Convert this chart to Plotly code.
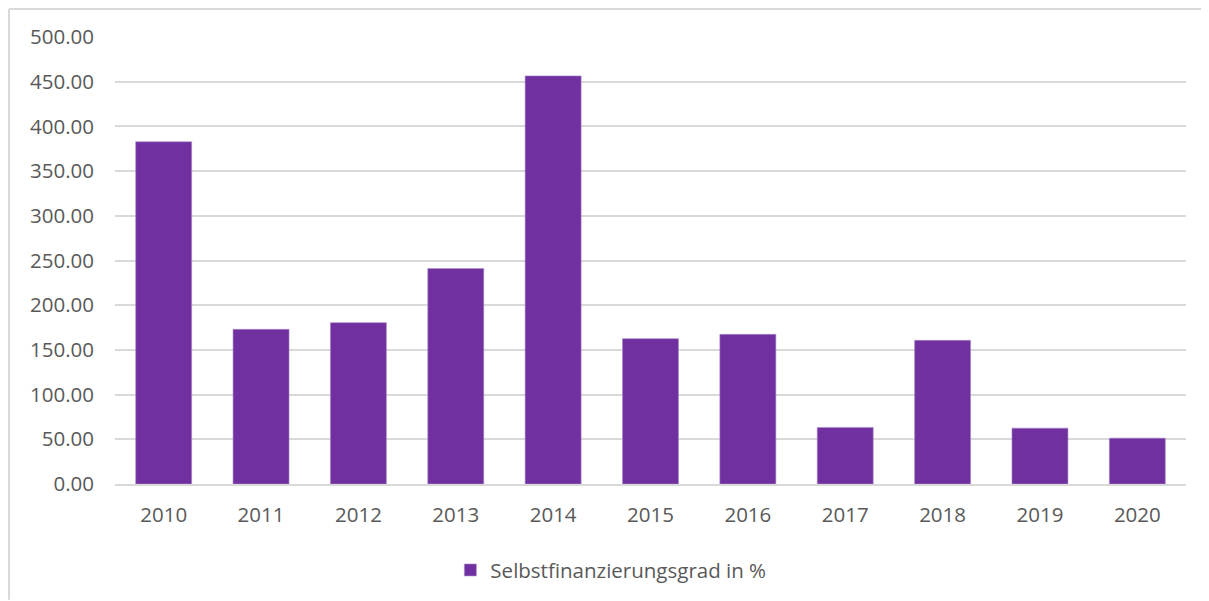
import plotly.graph_objects as go

# Selbstfinanzierungsgrad je Jahr
years = ["2010", "2011", "2012", "2013", "2014", "2015", "2016", "2017", "2018", "2019", "2020"]
ratio_pct = [382.8, 173.0, 180.5, 241.0, 456.5, 162.6, 167.4, 63.3, 160.7, 62.5, 51.3]
series_name = "Selbstfinanzierungsgrad in %"
y_ticks = [0, 50, 100, 150, 200, 250, 300, 350, 400, 450, 500]

# the page body adds an 8px margin, so the figure starts at (8, 8)
W, H = 1201, 593
ML, MR, MT, MB = 107, 23, 29, 116
font_family = "Open Sans, Noto Sans, sans-serif"
text_color = "#595959"
grid_color = "#d9d9d9"

fig = go.Figure()
fig.add_trace(go.Bar(
    x=years,
    y=ratio_pct,
    name=series_name,
    marker=dict(color="#7030a0", line=dict(color="#a88bc7", width=0.6)),
    showlegend=True,
))

# light frame along the top and left edge of the chart area
pw, ph = W - ML - MR, H - MT - MB
x_left = (1 - ML) / pw
y_top = 1 + (MT - 1) / ph
fig.add_shape(type="line", xref="paper", yref="paper",
              x0=x_left, x1=(W - ML) / pw, y0=y_top, y1=y_top,
              line=dict(color="#d9d9d9", width=2), layer="below")
fig.add_shape(type="line", xref="paper", yref="paper",
              x0=x_left, x1=x_left, y0=y_top, y1=-(MB) / ph,
              line=dict(color="#d9d9d9", width=2), layer="below")

fig.update_layout(
    width=W, height=H,
    margin=dict(l=ML, r=MR, t=MT, b=MB),
    paper_bgcolor="white", plot_bgcolor="white",
    font=dict(family=font_family, size=20.5, color=text_color),
    bargap=0.425,
    legend=dict(orientation="h", x=0.463, xanchor="center", y=-0.19, yanchor="middle",
                font=dict(size=20.5, color=text_color)),
)
fig.update_xaxes(showgrid=False, showline=True, linecolor=grid_color, linewidth=1.5,
                 ticks="", ticklabelstandoff=12)
fig.update_yaxes(range=[0, 500], tickvals=y_ticks, tickformat=".2f",
                 showgrid=True, gridcolor=grid_color, gridwidth=1.5,
                 zeroline=False, showline=False, ticks="", ticklabelstandoff=20)

fig.write_html("out.html")
